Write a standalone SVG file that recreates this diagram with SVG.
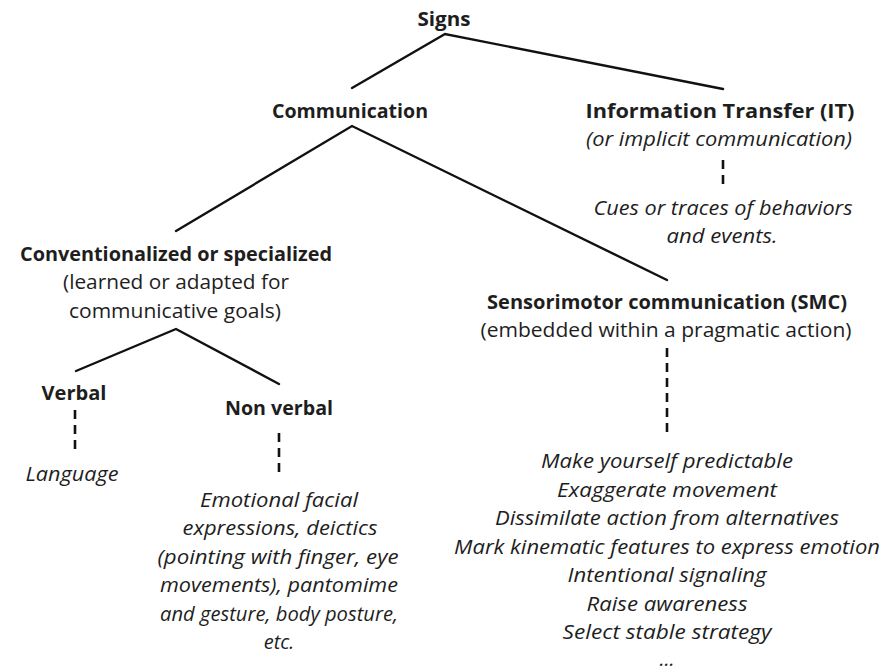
<svg xmlns="http://www.w3.org/2000/svg" width="886" height="672" viewBox="0 0 886 672">
<style>
text{font-family:"Open Sans","Noto Sans","Liberation Sans",sans-serif;font-size:20px;fill:#1e1e1e;text-anchor:middle}
.b{font-weight:bold}
.i{font-style:italic}
.ln{stroke:#111;stroke-width:2.4;fill:none;stroke-linecap:round}
.d{stroke:#111;stroke-width:2.6;fill:none;stroke-dasharray:9 6}
</style>
<rect width="886" height="672" fill="#fff"/>
<g id="connectors">
<path class="ln" d="M352,88 L445,34 L723,89"/>
<path class="ln" d="M176,231 L352,126 L667,280"/>
<path class="ln" d="M76,371 L176,329 L279,384"/>
<line class="d" x1="723" y1="160" x2="723" y2="184"/>
<line class="d" x1="75" y1="410" x2="75" y2="449"/>
<line class="d" x1="279" y1="433" x2="279" y2="472"/>
<line class="d" x1="667" y1="348" x2="667" y2="432"/>
</g>
<g id="signs"><text class="b" x="444" y="26" textLength="53" lengthAdjust="spacingAndGlyphs">Signs</text></g>
<g id="communication"><text class="b" x="350" y="118" textLength="156" lengthAdjust="spacingAndGlyphs">Communication</text></g>
<g id="information-transfer">
<text class="b" x="720" y="118" textLength="269" lengthAdjust="spacingAndGlyphs">Information Transfer (IT)</text>
<text class="i" x="719" y="146" textLength="266" lengthAdjust="spacingAndGlyphs">(or implicit communication)</text>
</g>
<g id="cues">
<text class="i" x="723" y="215" textLength="259" lengthAdjust="spacingAndGlyphs">Cues or traces of behaviors</text>
<text class="i" x="722" y="243" textLength="111" lengthAdjust="spacingAndGlyphs">and events.</text>
</g>
<g id="conventionalized">
<text class="b" x="176" y="261" textLength="312" lengthAdjust="spacingAndGlyphs">Conventionalized or specialized</text>
<text x="176" y="289" textLength="226" lengthAdjust="spacingAndGlyphs">(learned or adapted for</text>
<text x="175" y="318" textLength="212" lengthAdjust="spacingAndGlyphs">communicative goals)</text>
</g>
<g id="sensorimotor">
<text class="b" x="667" y="309" textLength="360" lengthAdjust="spacingAndGlyphs">Sensorimotor communication (SMC)</text>
<text x="666" y="337" textLength="371" lengthAdjust="spacingAndGlyphs">(embedded within a pragmatic action)</text>
</g>
<g id="verbal"><text class="b" x="74" y="400" textLength="65" lengthAdjust="spacingAndGlyphs">Verbal</text></g>
<g id="non-verbal"><text class="b" x="279" y="415" textLength="108" lengthAdjust="spacingAndGlyphs">Non verbal</text></g>
<g id="language"><text class="i" x="72" y="481" textLength="93" lengthAdjust="spacingAndGlyphs">Language</text></g>
<g id="nonverbal-examples">
<text class="i" x="279" y="507" textLength="158" lengthAdjust="spacingAndGlyphs">Emotional facial</text>
<text class="i" x="280" y="535" textLength="195" lengthAdjust="spacingAndGlyphs">expressions, deictics</text>
<text class="i" x="278" y="564" textLength="241" lengthAdjust="spacingAndGlyphs">(pointing with finger, eye</text>
<text class="i" x="279" y="592" textLength="238" lengthAdjust="spacingAndGlyphs">movements), pantomime</text>
<text class="i" x="279" y="621" textLength="238" lengthAdjust="spacingAndGlyphs">and gesture, body posture,</text>
<text class="i" x="279" y="649">etc.</text>
</g>
<g id="smc-examples">
<text class="i" x="667" y="468" textLength="252" lengthAdjust="spacingAndGlyphs">Make yourself predictable</text>
<text class="i" x="667" y="497" textLength="220" lengthAdjust="spacingAndGlyphs">Exaggerate movement</text>
<text class="i" x="667" y="525" textLength="344" lengthAdjust="spacingAndGlyphs">Dissimilate action from alternatives</text>
<text class="i" x="667" y="554" textLength="426" lengthAdjust="spacingAndGlyphs">Mark kinematic features to express emotion</text>
<text class="i" x="667" y="582" textLength="199" lengthAdjust="spacingAndGlyphs">Intentional signaling</text>
<text class="i" x="667" y="611" textLength="161" lengthAdjust="spacingAndGlyphs">Raise awareness</text>
<text class="i" x="667" y="639" textLength="209" lengthAdjust="spacingAndGlyphs">Select stable strategy</text>
<text class="i" x="667" y="666">...</text>
</g>
</svg>
